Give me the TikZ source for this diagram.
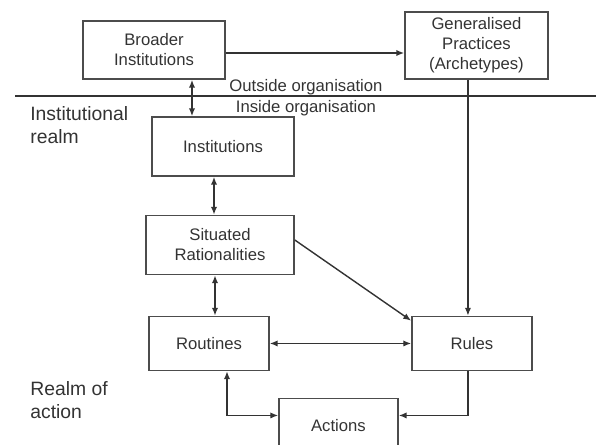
\documentclass[tikz,border=0pt]{standalone}
\usepackage{fontspec}
\setmainfont{Liberation Sans}
\usetikzlibrary{arrows.meta}

\begin{document}
\begin{tikzpicture}[x=0.02cm, y=-0.02cm, node distance=1.97cm, >={Latex[length=4.5pt,width=3.6pt]}]
\tikzstyle{box}=[rectangle,draw=black!70,line width=0.9pt,align=center,inner sep=2pt,font=\fontsize{9.5}{11.4}\selectfont,text=black!80]
\tikzstyle{link}=[draw=black!80,line width=0.8pt]
\tikzstyle{realm}=[align=left,anchor=base west,inner sep=0pt,font=\fontsize{11}{13}\selectfont,text=black!80]
\tikzstyle{side}=[anchor=base,inner sep=0pt,font=\fontsize{9.5}{11.4}\selectfont,text=black!80]
\useasboundingbox (0,0) rectangle (596,444);

\node[box,minimum width=2.84cm,minimum height=1.16cm](broad) at (154,50) {Broader\\Institutions};
\node[box,minimum width=2.86cm,minimum height=1.34cm](gen) at (476.5,45.5) {Generalised\\Practices\\(Archetypes)};
\node[box,minimum width=2.84cm,minimum height=1.18cm](inst) at (223,146.5) {Institutions};
\node[box,minimum width=2.96cm,minimum height=1.18cm](sit)[below of=inst,xshift=-0.06cm] {Situated\\Rationalities};
\node[box,minimum width=2.4cm,minimum height=1.08cm](rout)[below of=sit,xshift=-0.22cm] {Routines};
\node[box,minimum width=2.4cm,minimum height=1.08cm](rules)[right of=rout,node distance=5.26cm] {Rules};
\node[box,minimum width=2.38cm,minimum height=1.08cm](act)[below of=rout,node distance=1.64cm,xshift=2.59cm] {Actions};

% organisation boundary
\coordinate (sepL) at (15,96);
\coordinate (sepR) at (596,96);
\draw[link] (sepL) -- (sepR);
\node[side](outside) at (306,91) {Outside organisation};
\node[side](inside) at (306,112) {Inside organisation};

\node[realm](instrealm) at (30,143) {Institutional\\realm};
\node[realm](actrealm) at (30,418) {Realm of\\action};

% connectors
\draw[link,->] ([yshift=-0.06cm]broad.east) -- ([yshift=-0.06cm]broad.east -| gen.west);
\draw[link,<->] ([xshift=0.76cm]broad.south) -- ([xshift=0.76cm]broad.south |- inst.north);
\draw[link,<->] ([xshift=-0.18cm]inst.south) -- ([xshift=-0.18cm]inst.south |- sit.north);
\draw[link,<->] ([xshift=-0.1cm]sit.south) -- ([xshift=-0.1cm]sit.south |- rout.north);
\draw[link,->] ([xshift=-0.08cm]rules.north |- gen.south) -- ([xshift=-0.08cm]rules.north);
\draw[link,->] ([yshift=0.1cm]sit.east) -- ([yshift=-0.1cm]rules.north west);
\draw[link,<->] (rout.east) -- (rules.west);
\draw[link,<->] ([xshift=0.36cm]rout.south) |- ([yshift=0.2cm]act.west);
\draw[link,->] ([xshift=-0.08cm]rules.south) |- ([yshift=0.2cm]act.east);

\end{tikzpicture}
\end{document}
